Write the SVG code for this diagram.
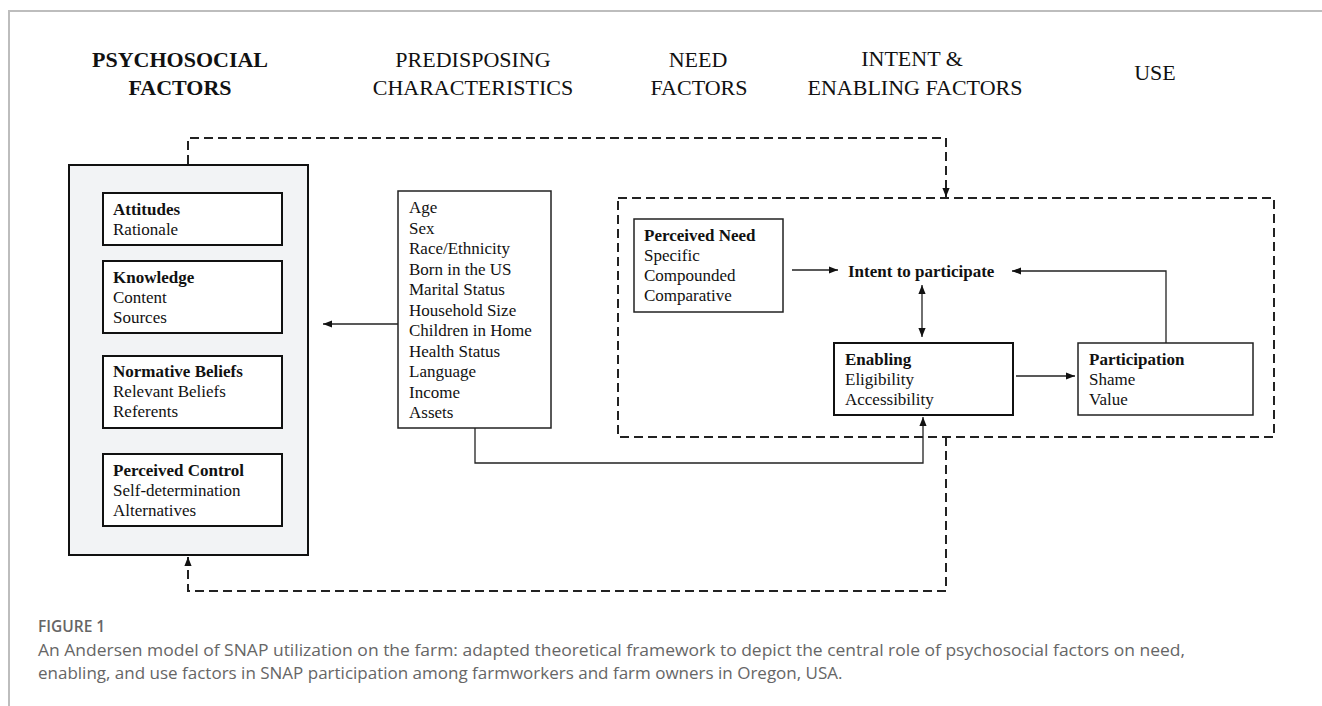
<svg xmlns="http://www.w3.org/2000/svg" width="1322" height="706" viewBox="0 0 1322 706">
<style>
.hd{font-family:"Liberation Serif","Times New Roman",serif;font-size:22px;fill:#111;text-anchor:middle}
.hb{font-weight:bold}
.t{font-family:"Liberation Serif","Times New Roman",serif;font-size:17px;fill:#111}
.b{font-weight:bold}
.box{fill:#fff;stroke:#111;stroke-width:2}
.thin{fill:#fff;stroke:#222;stroke-width:1.5}
.ln{fill:none;stroke:#222;stroke-width:1.3}
.dash{fill:none;stroke:#222;stroke-width:2;stroke-dasharray:9 5}
.cap{font-family:"Open Sans","Liberation Sans",sans-serif;fill:#666}
</style>
<defs>
<marker id="ah" viewBox="0 0 10 8" markerWidth="9" markerHeight="7.5" refX="10" refY="4" orient="auto-start-reverse" markerUnits="userSpaceOnUse">
<path d="M0,0 L10,4 L0,8 z" fill="#111"/>
</marker>
</defs>
<rect width="1322" height="706" fill="#fff"/>
<path d="M9,706 V11 H1322" fill="none" stroke="#bdbdbd" stroke-width="2"/>

<g id="headers">
<text class="hd hb" x="180" y="67">PSYCHOSOCIAL</text>
<text class="hd hb" x="180" y="95">FACTORS</text>
<text class="hd" x="473" y="67">PREDISPOSING</text>
<text class="hd" x="473" y="95">CHARACTERISTICS</text>
<text class="hd" x="698" y="67">NEED</text>
<text class="hd" x="699" y="95">FACTORS</text>
<text class="hd" x="912" y="66">INTENT &amp;</text>
<text class="hd" x="915" y="95">ENABLING FACTORS</text>
<text class="hd" x="1155" y="80">USE</text>
</g>

<g id="psychosocial">
<rect x="69" y="165" width="239" height="390" fill="#f2f3f5" stroke="#111" stroke-width="2"/>
</g>
<g id="attitudes">
<rect class="box" x="103" y="193" width="179" height="52"/>
<text class="t b" x="113" y="215">Attitudes</text>
<text class="t" x="113" y="235">Rationale</text>
</g>
<g id="knowledge">
<rect class="box" x="103" y="261" width="179" height="72"/>
<text class="t b" x="113" y="283">Knowledge</text>
<text class="t" x="113" y="303">Content</text>
<text class="t" x="113" y="323">Sources</text>
</g>
<g id="normative">
<rect class="box" x="103" y="356" width="179" height="72"/>
<text class="t b" x="113" y="377">Normative Beliefs</text>
<text class="t" x="113" y="397">Relevant Beliefs</text>
<text class="t" x="113" y="417">Referents</text>
</g>
<g id="control">
<rect class="box" x="103" y="454" width="179" height="72"/>
<text class="t b" x="113" y="476">Perceived Control</text>
<text class="t" x="113" y="496">Self-determination</text>
<text class="t" x="113" y="516">Alternatives</text>
</g>

<g id="predisposing">
<rect class="thin" x="398" y="191" width="153" height="237"/>
<text class="t" x="409" y="213">Age</text>
<text class="t" x="409" y="233.5">Sex</text>
<text class="t" x="409" y="254">Race/Ethnicity</text>
<text class="t" x="409" y="274.5">Born in the US</text>
<text class="t" x="409" y="295">Marital Status</text>
<text class="t" x="409" y="315.5">Household Size</text>
<text class="t" x="409" y="336">Children in Home</text>
<text class="t" x="409" y="356.5">Health Status</text>
<text class="t" x="409" y="377">Language</text>
<text class="t" x="409" y="397.5">Income</text>
<text class="t" x="409" y="418">Assets</text>
</g>

<g id="need-group">
<rect class="dash" x="618" y="198" width="656" height="239"/>
</g>
<g id="perceived-need">
<rect class="thin" x="634" y="219" width="149" height="93"/>
<text class="t b" x="644" y="241">Perceived Need</text>
<text class="t" x="644" y="261">Specific</text>
<text class="t" x="644" y="281">Compounded</text>
<text class="t" x="644" y="301">Comparative</text>
</g>
<g id="intent">
<text class="t b" x="848" y="277">Intent to participate</text>
</g>
<g id="enabling">
<rect class="box" x="834" y="343" width="179" height="72"/>
<text class="t b" x="845" y="365">Enabling</text>
<text class="t" x="845" y="385">Eligibility</text>
<text class="t" x="845" y="405">Accessibility</text>
</g>
<g id="participation">
<rect class="thin" x="1078" y="343" width="175" height="72"/>
<text class="t b" x="1089" y="365">Participation</text>
<text class="t" x="1089" y="385">Shame</text>
<text class="t" x="1089" y="405">Value</text>
</g>

<g id="connectors">
<path class="dash" d="M188,164 V138 H946 V197" marker-end="url(#ah)"/>
<path class="dash" d="M946,437 V591 H188 V557" marker-end="url(#ah)"/>
<path class="ln" d="M398,324 H323" marker-end="url(#ah)"/>
<path class="ln" d="M475,428 V463 H923 V417" marker-end="url(#ah)"/>
<path class="ln" d="M792,270 H838" marker-end="url(#ah)"/>
<path class="ln" d="M922,285 V337" marker-start="url(#ah)" marker-end="url(#ah)"/>
<path class="ln" d="M1016,376 H1075" marker-end="url(#ah)"/>
<path class="ln" d="M1166,343 V271 H1012" marker-end="url(#ah)"/>
</g>

<g id="caption">
<text class="cap" x="38" y="632" font-size="15.5" font-weight="600">FIGURE 1</text>
<text class="cap" x="38" y="656" font-size="17" textLength="1147" lengthAdjust="spacingAndGlyphs">An Andersen model of SNAP utilization on the farm: adapted theoretical framework to depict the central role of psychosocial factors on need,</text>
<text class="cap" x="38" y="679" font-size="17">enabling, and use factors in SNAP participation among farmworkers and farm owners in Oregon, USA.</text>
</g>
</svg>
